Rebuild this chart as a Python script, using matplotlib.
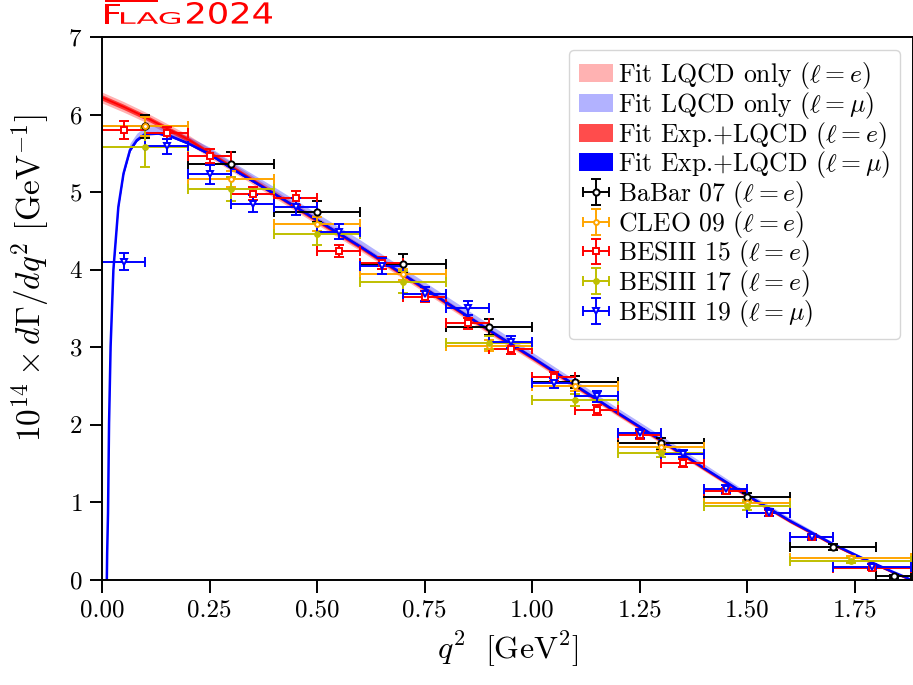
import matplotlib
matplotlib.use("Agg")
import matplotlib.pyplot as plt
import numpy as np
from matplotlib.textpath import TextPath
from matplotlib.patches import PathPatch, Rectangle
from matplotlib.font_manager import FontProperties
from matplotlib.transforms import Affine2D

plt.rcParams["font.family"] = "serif"
plt.rcParams["font.serif"] = ["cmr10"]
plt.rcParams["mathtext.fontset"] = "cm"
plt.rcParams["axes.unicode_minus"] = False
plt.rcParams["axes.formatter.use_mathtext"] = True

# fit curves, electron channel
fit_q2_e = [0.0, 0.05, 0.1, 0.2, 0.3, 0.4, 0.5, 0.6, 0.7, 0.8, 0.9, 1.0, 1.1,
            1.2, 1.3, 1.4, 1.5, 1.6, 1.7, 1.76, 1.8, 1.84, 1.87, 1.88]
fit_e = [6.22, 6.10, 5.97, 5.68, 5.33, 4.98, 4.63, 4.29, 3.93, 3.57, 3.21, 2.86,
         2.50, 2.14, 1.79, 1.43, 1.08, 0.75, 0.45, 0.29, 0.19, 0.09, 0.02, 0.0]
fit_e_err = [0.035, 0.034, 0.033, 0.03, 0.028, 0.026, 0.025, 0.024, 0.023, 0.022,
             0.021, 0.02, 0.02, 0.019, 0.018, 0.017, 0.015, 0.013, 0.01, 0.008,
             0.006, 0.004, 0.002, 0.0]
lqcd_e_err = [0.07, 0.068, 0.065, 0.06, 0.055, 0.05, 0.048, 0.046, 0.045, 0.043,
              0.041, 0.039, 0.037, 0.034, 0.031, 0.028, 0.024, 0.02, 0.015, 0.012,
              0.009, 0.006, 0.003, 0.0]

# muon channel
fit_q2_mu = [0.0112, 0.012, 0.014, 0.0164, 0.02, 0.0265, 0.038, 0.05, 0.065,
             0.081, 0.1, 0.13, 0.16, 0.2, 0.25, 0.3, 0.4, 0.5, 0.6, 0.7, 0.8,
             0.9, 1.0, 1.1, 1.2, 1.3, 1.4, 1.5, 1.6, 1.7, 1.76, 1.8, 1.84, 1.87,
             1.88]
fit_mu = [0.0, 0.35, 0.86, 2.02, 3.01, 4.0, 4.81, 5.24, 5.54, 5.67, 5.75, 5.76,
          5.72, 5.63, 5.49, 5.31, 4.98, 4.64, 4.30, 3.94, 3.58, 3.22, 2.87, 2.51,
          2.15, 1.80, 1.44, 1.09, 0.76, 0.46, 0.30, 0.20, 0.10, 0.03, 0.0]
fit_mu_err = [0.0, 0.004, 0.008, 0.01, 0.012, 0.013, 0.014, 0.015, 0.015, 0.015,
              0.015, 0.015, 0.015, 0.015, 0.015, 0.015, 0.015, 0.015, 0.015,
              0.015, 0.015, 0.015, 0.015, 0.014, 0.014, 0.013, 0.012, 0.011,
              0.01, 0.008, 0.006, 0.005, 0.003, 0.002, 0.0]
lqcd_mu = [0.0, 0.36, 0.88, 2.05, 3.05, 4.04, 4.85, 5.28, 5.58, 5.71, 5.79, 5.80,
           5.76, 5.67, 5.53, 5.35, 5.02, 4.68, 4.34, 3.98, 3.62, 3.26, 2.90, 2.54,
           2.18, 1.83, 1.47, 1.11, 0.78, 0.47, 0.31, 0.20, 0.10, 0.03, 0.0]
lqcd_mu_err = [0.0, 0.01, 0.02, 0.03, 0.04, 0.045, 0.05, 0.05, 0.05, 0.05, 0.05,
               0.05, 0.05, 0.05, 0.05, 0.05, 0.048, 0.046, 0.045, 0.043, 0.041,
               0.039, 0.037, 0.035, 0.032, 0.029, 0.026, 0.022, 0.018, 0.014,
               0.011, 0.008, 0.005, 0.002, 0.0]

# experimental points
babar_q2 = [0.1, 0.3, 0.5, 0.7, 0.9, 1.1, 1.3, 1.5, 1.7, 1.84]
babar_dq2 = [0.1, 0.1, 0.1, 0.1, 0.1, 0.1, 0.1, 0.1, 0.1, 0.04]
babar_y = [5.85, 5.36, 4.75, 4.08, 3.26, 2.55, 1.76, 1.07, 0.43, 0.05]
babar_err = [0.15, 0.16, 0.14, 0.12, 0.10, 0.08, 0.07, 0.05, 0.04, 0.02]

cleo_q2 = [0.1, 0.3, 0.5, 0.7, 0.9, 1.1, 1.3, 1.5, 1.74]
cleo_dq2 = [0.1, 0.1, 0.1, 0.1, 0.1, 0.1, 0.1, 0.1, 0.14]
cleo_y = [5.85, 5.17, 4.59, 3.94, 3.02, 2.50, 1.71, 0.99, 0.28]
cleo_err = [0.12, 0.10, 0.09, 0.07, 0.07, 0.06, 0.05, 0.04, 0.03]

bes15_q2 = [0.05, 0.15, 0.25, 0.35, 0.45, 0.55, 0.65, 0.75, 0.85, 0.95, 1.05,
            1.15, 1.25, 1.35, 1.45, 1.55, 1.65, 1.79]
bes15_dq2 = [0.05] * 17 + [0.09]
bes15_y = [5.80, 5.76, 5.46, 4.98, 4.93, 4.24, 4.09, 3.65, 3.31, 2.98, 2.62,
           2.19, 1.87, 1.51, 1.15, 0.86, 0.56, 0.15]
bes15_err = [0.12, 0.08, 0.09, 0.08, 0.09, 0.08, 0.08, 0.07, 0.07, 0.07, 0.06,
             0.06, 0.05, 0.05, 0.04, 0.04, 0.03, 0.02]

bes17_q2 = [0.1, 0.3, 0.5, 0.7, 0.9, 1.1, 1.3, 1.5, 1.74]
bes17_dq2 = [0.1, 0.1, 0.1, 0.1, 0.1, 0.1, 0.1, 0.1, 0.14]
bes17_y = [5.58, 5.04, 4.46, 3.84, 3.06, 2.32, 1.64, 0.95, 0.25]
bes17_err = [0.25, 0.15, 0.14, 0.14, 0.08, 0.08, 0.06, 0.05, 0.03]

bes19_q2 = bes15_q2
bes19_dq2 = bes15_dq2
bes19_y = [4.10, 5.59, 5.23, 4.85, 4.81, 4.49, 4.05, 3.69, 3.51, 3.07, 2.54,
           2.37, 1.89, 1.63, 1.17, 0.87, 0.55, 0.17]
bes19_err = [0.11, 0.10, 0.12, 0.11, 0.11, 0.10, 0.10, 0.09, 0.09, 0.08, 0.07,
             0.07, 0.06, 0.05, 0.05, 0.04, 0.03, 0.03]

W, H = 913, 685


def text_path(fig, s, x0, y0, x1, y1, color):
    """Draw string s so its ink fills the pixel box (x0, y0)-(x1, y1), y from top."""
    tp = TextPath((0, 0), s, size=1, prop=FontProperties(family="DejaVu Sans"))
    ext = tp.get_extents()
    sx = (x1 - x0) / ext.width / 100.0
    sy = (y1 - y0) / ext.height / 100.0
    tr = (Affine2D().translate(-ext.x0, -ext.y0).scale(sx, sy)
          .translate(x0 / 100.0, (H - y1) / 100.0) + fig.dpi_scale_trans)
    fig.add_artist(PathPatch(tp, transform=tr, facecolor=color, edgecolor="none"))


def main():
    fig = plt.figure(figsize=(W / 100, H / 100), dpi=100)
    ax = fig.add_axes([102 / W, 105 / H, 811 / W, 543 / H])

    ax.fill_between(fit_q2_e, np.array(fit_e) - lqcd_e_err, np.array(fit_e) + lqcd_e_err,
                    color="red", alpha=0.3, lw=0, label=r"Fit LQCD only ($\ell=e$)")
    ax.fill_between(fit_q2_mu, np.array(lqcd_mu) - lqcd_mu_err, np.array(lqcd_mu) + lqcd_mu_err,
                    color="blue", alpha=0.3, lw=0, label=r"Fit LQCD only ($\ell=\mu$)")
    ax.fill_between(fit_q2_e, np.array(fit_e) - fit_e_err, np.array(fit_e) + fit_e_err,
                    color="red", alpha=0.7, lw=0, label=r"Fit Exp.+LQCD ($\ell=e$)")
    ax.fill_between(fit_q2_mu, np.array(fit_mu) - fit_mu_err, np.array(fit_mu) + fit_mu_err,
                    color="blue", alpha=1.0, lw=0, label=r"Fit Exp.+LQCD ($\ell=\mu$)")
    ax.plot(fit_q2_e, fit_e, color="red", lw=1.2)
    ax.plot(fit_q2_mu, fit_mu, color="blue", lw=1.8)

    eb = dict(ls="none", elinewidth=1.4, capsize=3.5, capthick=1.4, mew=1.4)
    ax.errorbar(babar_q2, babar_y, yerr=babar_err, xerr=babar_dq2, color="black",
                marker="o", ms=4.5, mfc="white", label=r"BaBar 07 ($\ell=e$)", **eb)
    ax.errorbar(cleo_q2, cleo_y, yerr=cleo_err, xerr=cleo_dq2, color="orange",
                marker="o", ms=3.5, mfc="white", label=r"CLEO 09 ($\ell=e$)", **eb)
    ax.errorbar(bes15_q2, bes15_y, yerr=bes15_err, xerr=bes15_dq2, color="red",
                marker="s", ms=4.5, mfc="white", label=r"BESIII 15 ($\ell=e$)", **eb)
    ax.errorbar(bes17_q2, bes17_y, yerr=bes17_err, xerr=bes17_dq2, color="y",
                marker="o", ms=3.5, label=r"BESIII 17 ($\ell=e$)", **eb)
    ax.errorbar(bes19_q2, bes19_y, yerr=bes19_err, xerr=bes19_dq2, color="blue",
                marker="v", ms=4.5, mfc="white", label=r"BESIII 19 ($\ell=\mu$)", **eb)

    ax.set_xlim(0, 1.885)
    ax.set_ylim(0, 7)
    ax.set_xticks([0.0, 0.25, 0.5, 0.75, 1.0, 1.25, 1.5, 1.75])
    ax.set_xticklabels(["0.00", "0.25", "0.50", "0.75", "1.00", "1.25", "1.50", "1.75"])
    ax.tick_params(direction="out", length=9, width=1.4, labelsize=18, pad=5)
    for sp in ax.spines.values():
        sp.set_linewidth(1.4)

    ax.set_xlabel(r"$q^2\ \ [\mathrm{GeV}^2]$", fontsize=23, labelpad=6)
    ax.set_ylabel(r"$10^{14}\times d\Gamma/dq^2$ [GeV$^{-1}$]", fontsize=24)
    ax.yaxis.set_label_coords(-0.062, 0.556)

    ax.legend(loc="upper right", fontsize=18.5, handlelength=1.3, handletextpad=0.2,
              labelspacing=-0.05, borderpad=0.4, borderaxespad=0.5)

    # FLAG 2024 logo at the top
    text_path(fig, "F", 105, 4, 120, 24, "red")
    text_path(fig, "LAG", 121, 12, 180, 24, "red")
    text_path(fig, "2024", 187, 2, 272, 24, "red")
    fig.add_artist(Rectangle((105 / W, 1 - 2 / H), 53 / W, 1.6 / H,
                             transform=fig.transFigure, color="red", lw=0))

    fig.savefig("out.png", dpi=100)
    plt.close(fig)


if __name__ == "__main__":
    main()
